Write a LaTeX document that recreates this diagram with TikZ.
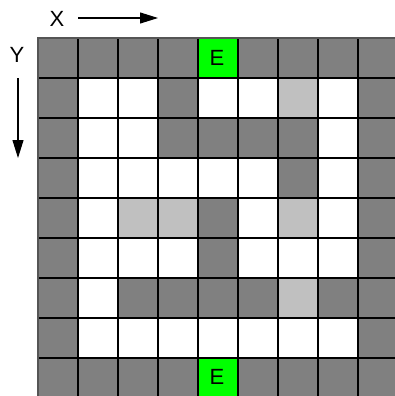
\documentclass[tikz,border=0pt]{standalone}
\usepackage{fontspec}
\setmainfont{Liberation Sans}
\usetikzlibrary{arrows.meta}
\definecolor{cD}{HTML}{808080}
\definecolor{cW}{HTML}{FFFFFF}
\definecolor{cL}{HTML}{C0C0C0}
\definecolor{cE}{HTML}{00FF00}
\definecolor{rim}{HTML}{555555}
\begin{document}
\begin{tikzpicture}[x=1pt,y=-1pt,
  gridline/.style={draw=black,line width=1.3pt},
  rimline/.style={draw=rim,line width=1.6pt},
  txt/.style={inner sep=0pt,font=\fontsize{22}{26}\selectfont},
  axarrow/.style={draw=black,line width=1.1pt,-{Triangle[length=18pt,width=11pt]}}]
\useasboundingbox (0,0) rectangle (395,396);
\fill[white] (0,0) rectangle (395,396);
\foreach \rowlist [count=\r from 0] in {
  {D,D,D,D,E,D,D,D,D},
  {D,W,W,D,W,W,L,W,D},
  {D,W,W,D,D,D,D,W,D},
  {D,W,W,W,W,W,D,W,D},
  {D,W,L,L,D,W,L,W,D},
  {D,W,W,W,D,W,W,W,D},
  {D,W,D,D,D,D,L,D,D},
  {D,W,W,W,W,W,W,W,D},
  {D,D,D,D,E,D,D,D,D}}{
  \foreach \cc [count=\k from 0] in \rowlist {
    \fill[c\cc] (38+40*\k,38+40*\r) rectangle ++(40,40);
  }
}
\foreach \i in {1,...,8}{
  \draw[gridline] (38+40*\i,38) -- (38+40*\i,398);
  \draw[gridline] (38,38+40*\i) -- (398,38+40*\i);
}
\draw[rimline] (38,38) rectangle (398,398);
\node[txt] (etop) at (217,58) {E};
\node[txt] (ebot) at (217,377) {E};
\node[txt] (xlab) at (57,19) {X};
\node[txt] (ylab) at (17,55) {Y};
\coordinate (xs) at (78,18);
\coordinate (xe) at (158,18);
\coordinate (ys) at (18,78);
\coordinate (ye) at (18,158);
\draw[axarrow] (xs) -- (xe);
\draw[axarrow] (ys) -- (ye);
\end{tikzpicture}
\end{document}
